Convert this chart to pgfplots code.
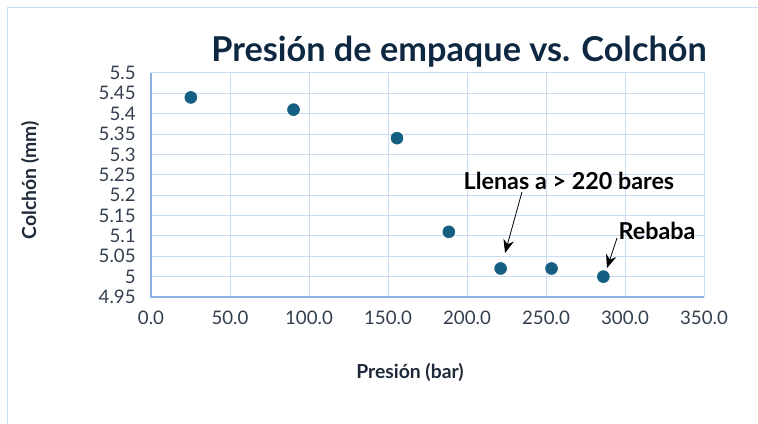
\documentclass[border=0pt]{standalone}
\usepackage{pgfplots}
\pgfplotsset{compat=1.18}
\usepackage{fontspec}
\setmainfont{Lato}
\usetikzlibrary{arrows.meta}
\definecolor{mk}{HTML}{156082}
\definecolor{gridc}{HTML}{C9DCF2}
\definecolor{axc}{HTML}{8DB3E2}
\definecolor{titc}{HTML}{0E2841}
\definecolor{tickc}{HTML}{333F50}
\definecolor{labc}{HTML}{1E2A3A}
\begin{document}
\begin{tikzpicture}
\useasboundingbox (0,0) rectangle (568.5pt,318pt);
\draw[gridc, line width=0.75pt] (5.25pt,0) -- (5.25pt,312pt) -- (568.5pt,312pt);
\begin{axis}[
  at={(113.25pt,95.25pt)}, anchor=south west,
  scale only axis, width=414.75pt, height=168pt,
  xmin=0, xmax=350, ymin=4.95, ymax=5.5,
  xtick={0,50,...,350},
  ytick={4.95,5,5.05,5.1,5.15,5.2,5.25,5.3,5.35,5.4,5.45,5.5},
  yticklabels={4.95,5,5.05,5.1,5.15,5.2,5.25,5.3,5.35,5.4,5.45,5.5},
  x tick label style={/pgf/number format/fixed, /pgf/number format/fixed zerofill, /pgf/number format/precision=1},
  /pgf/number format/assume math mode=true,
  ticklabel style={font=\fontsize{14pt}{15pt}\selectfont, text=tickc},
  xticklabel shift=7pt,
  yticklabel shift=8pt,
  major tick length=0pt,
  grid=major,
  grid style={gridc, line width=0.75pt},
  axis line style={gridc, line width=0.75pt},
  clip=false,
]
\addplot[only marks, mark=*, mark size=4.5pt, mark options={fill=mk, draw=mk}]
coordinates {(25.2,5.44) (90.2,5.41) (155.7,5.34) (188.5,5.11) (221.3,5.02) (253.5,5.02) (286.3,5.00)};
\draw[axc, line width=1pt] (axis cs:0,5.5) -- (axis cs:0,4.95) -- (axis cs:350,4.95);
\node[font=\fontsize{17.5pt}{19pt}\selectfont\bfseries] at (axis cs:264.5,5.235) {Llenas a > 220 bares};
\draw[-{Stealth[length=10pt,width=8pt]}, line width=0.6pt] (axis cs:234.8,5.208) -- (axis cs:224.1,5.058);
\node[font=\fontsize{17.5pt}{19pt}\selectfont\bfseries] at (axis cs:320.3,5.112) {Rebaba};
\draw[-{Stealth[length=10pt,width=8pt]}, line width=0.6pt] (axis cs:295,5.095) -- (axis cs:288.6,5.021);
\end{axis}
\node[font=\fontsize{25.7pt}{27pt}\selectfont\bfseries, text=titc] at (344.25pt,279pt) {Presión de empaque vs. Colchón};
\node[font=\fontsize{14.5pt}{16pt}\selectfont\bfseries, text=labc, rotate=90] at (22.5pt,183pt) {Colchón (mm)};
\node[font=\fontsize{14.5pt}{16pt}\selectfont\bfseries, text=labc] at (307.5pt,39pt) {Presión (bar)};
\end{tikzpicture}
\end{document}
